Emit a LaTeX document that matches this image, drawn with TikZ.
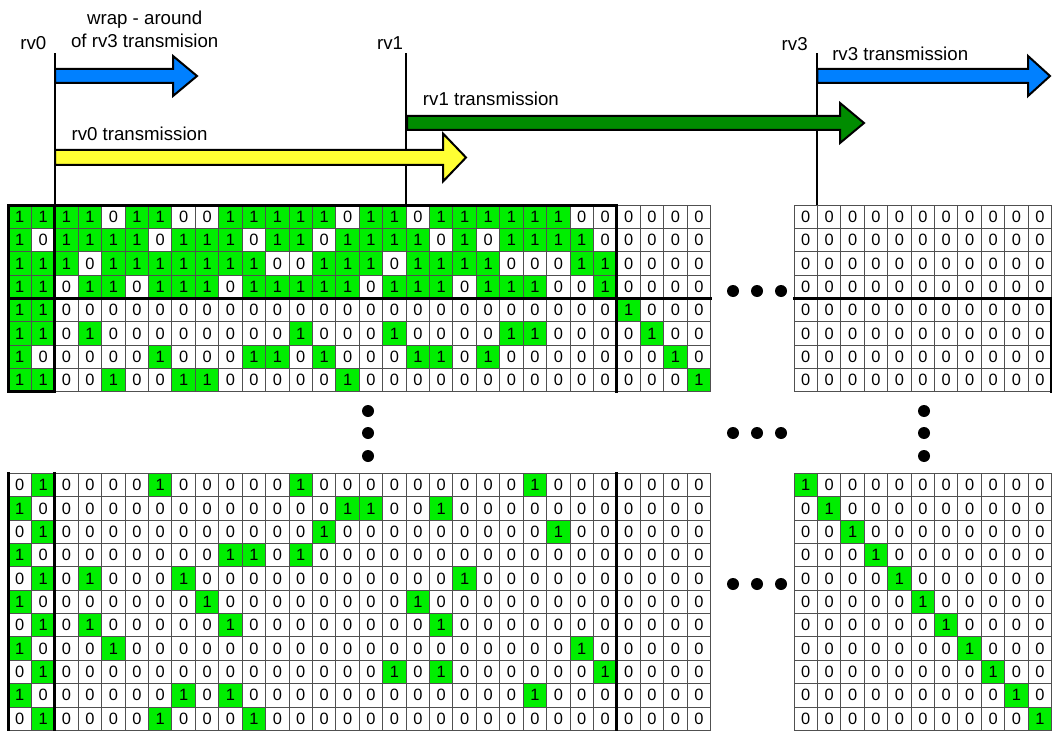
\documentclass[tikz,border=0pt]{standalone}
\usepackage{fontspec}
\setmainfont{Liberation Sans}
\usepackage{tikz}
\definecolor{BitGreen}{HTML}{00EE00}
\definecolor{RvBlue}{HTML}{0080FF}
\definecolor{RvYellow}{HTML}{FFFF33}
\definecolor{RvGreen}{HTML}{008C00}
\definecolor{GridLine}{HTML}{505050}
\newcommand{\cellw}{23.42}
\newcommand{\cellh}{23.35}
\tikzset{
  bitcell/.style={draw=GridLine,line width=0.75pt,minimum width=17.565pt,minimum height=17.51pt,inner sep=0pt,outer sep=0pt,font=\fontsize{12.3}{13}\selectfont},
  thickrule/.style={line width=2.25pt,draw=black,line cap=rect},
  rvline/.style={line width=1.5pt,draw=black},
  arrowedge/.style={line width=1.5pt,draw=black,line join=miter},
  lbl/.style={font=\fontsize{14}{16}\selectfont,inner sep=0pt}
}
% one block of bits: name, left x, top y, rows of 0/1
\newcommand{\bitgrid}[4]{%
  \foreach \rowbits [count=\ri from 0] in {#4} {%
    \foreach \bitval [count=\ci from 0] in \rowbits {%
      \ifnum\bitval=1 \def\cellfill{BitGreen}\else\def\cellfill{white}\fi
      \node[bitcell,fill=\cellfill] (#1-\ri-\ci) at ({#2+(\ci+0.5)*\cellw},{#3+(\ri+0.5)*\cellh}) {\bitval};
    }%
  }%
}
% fat arrow: fill, x start, y centre, x head base, x tip, shaft half, head half
\newcommand{\bigarrow}[7]{%
  \draw[arrowedge,fill=#1] (#2,#3-#6) -- (#4,#3-#6) -- (#4,#3-#7) -- (#5,#3)
    -- (#4,#3+#7) -- (#4,#3+#6) -- (#2,#3+#6) -- cycle;
}

\begin{document}
\begin{tikzpicture}[x=0.75pt,y=-0.75pt]
\useasboundingbox (0,0) rectangle (1052,731);

% systematic + parity rows of the base graph
\bitgrid{tl}{8}{205}{%
{1,1,1,1,0,1,1,0,0,1,1,1,1,1,0,1,1,0,1,1,1,1,1,1,0,0,0,0,0,0},%
{1,0,1,1,1,1,0,1,1,1,0,1,1,0,1,1,1,1,0,1,0,1,1,1,1,0,0,0,0,0},%
{1,1,1,0,1,1,1,1,1,1,1,0,0,1,1,1,0,1,1,1,1,0,0,0,1,1,0,0,0,0},%
{1,1,0,1,1,0,1,1,1,0,1,1,1,1,1,0,1,1,1,0,1,1,1,0,0,1,0,0,0,0},%
{1,1,0,0,0,0,0,0,0,0,0,0,0,0,0,0,0,0,0,0,0,0,0,0,0,0,1,0,0,0},%
{1,1,0,1,0,0,0,0,0,0,0,0,1,0,0,0,1,0,0,0,0,1,1,0,0,0,0,1,0,0},%
{1,0,0,0,0,0,1,0,0,0,1,1,0,1,0,0,0,1,1,0,1,0,0,0,0,0,0,0,1,0},%
{1,1,0,0,1,0,0,1,1,0,0,0,0,0,1,0,0,0,0,0,0,0,0,0,0,0,0,0,0,1}}
\bitgrid{bl}{8}{473.5}{%
{0,1,0,0,0,0,1,0,0,0,0,0,1,0,0,0,0,0,0,0,0,0,1,0,0,0,0,0,0,0},%
{1,0,0,0,0,0,0,0,0,0,0,0,0,0,1,1,0,0,1,0,0,0,0,0,0,0,0,0,0,0},%
{0,1,0,0,0,0,0,0,0,0,0,0,0,1,0,0,0,0,0,0,0,0,0,1,0,0,0,0,0,0},%
{1,0,0,0,0,0,0,0,0,1,1,0,1,0,0,0,0,0,0,0,0,0,0,0,0,0,0,0,0,0},%
{0,1,0,1,0,0,0,1,0,0,0,0,0,0,0,0,0,0,0,1,0,0,0,0,0,0,0,0,0,0},%
{1,0,0,0,0,0,0,0,1,0,0,0,0,0,0,0,0,1,0,0,0,0,0,0,0,0,0,0,0,0},%
{0,1,0,1,0,0,0,0,0,1,0,0,0,0,0,0,0,0,1,0,0,0,0,0,0,0,0,0,0,0},%
{1,0,0,0,1,0,0,0,0,0,0,0,0,0,0,0,0,0,0,0,0,0,0,0,1,0,0,0,0,0},%
{0,1,0,0,0,0,0,0,0,0,0,0,0,0,0,0,1,0,1,0,0,0,0,0,0,1,0,0,0,0},%
{1,0,0,0,0,0,0,1,0,1,0,0,0,0,0,0,0,0,0,0,0,0,1,0,0,0,0,0,0,0},%
{0,1,0,0,0,0,1,0,0,0,1,0,0,0,0,0,0,0,0,0,0,0,0,0,0,0,0,0,0,0}}
\bitgrid{tr}{794}{205}{%
{0,0,0,0,0,0,0,0,0,0,0},{0,0,0,0,0,0,0,0,0,0,0},%
{0,0,0,0,0,0,0,0,0,0,0},{0,0,0,0,0,0,0,0,0,0,0},%
{0,0,0,0,0,0,0,0,0,0,0},{0,0,0,0,0,0,0,0,0,0,0},%
{0,0,0,0,0,0,0,0,0,0,0},{0,0,0,0,0,0,0,0,0,0,0}}
\bitgrid{br}{794}{473.5}{%
{1,0,0,0,0,0,0,0,0,0,0},{0,1,0,0,0,0,0,0,0,0,0},%
{0,0,1,0,0,0,0,0,0,0,0},{0,0,0,1,0,0,0,0,0,0,0},%
{0,0,0,0,1,0,0,0,0,0,0},{0,0,0,0,0,1,0,0,0,0,0},%
{0,0,0,0,0,0,1,0,0,0,0},{0,0,0,0,0,0,0,1,0,0,0},%
{0,0,0,0,0,0,0,0,1,0,0},{0,0,0,0,0,0,0,0,0,1,0},%
{0,0,0,0,0,0,0,0,0,0,1}}

% heavy block borders
\draw[thickrule] (tl-0-0.north west) -- (tl-0-25.north east);
\draw[thickrule] (tl-0-0.north west) -- (tl-7-0.south west) -- (tl-7-1.south east);
\draw[thickrule] (tl-0-2.north west) -- (tl-7-2.south west);
\draw[thickrule] (tl-0-26.north west) -- (tl-7-26.south west);
\draw[thickrule] (tl-4-0.north west) -- (tl-4-29.north east);
\draw[thickrule] (tr-4-0.north west) -- (tr-4-10.north east) -- (tr-7-10.south east);
\draw[thickrule] (bl-0-0.north west) -- (bl-10-0.south west);
\draw[thickrule] (bl-0-2.north west) -- (bl-10-2.south west);
\draw[thickrule] (bl-0-26.north west) -- (bl-10-26.south west);

% redundancy version start points
\coordinate (linetop) at (0,53);
\coordinate (rv0) at (tl-0-2.north west);
\coordinate (rv1) at (tl-0-17.north west);
\coordinate (rv3) at (tr-0-1.north west);
\draw[rvline] (rv0) -- (rv0 |- linetop);
\draw[rvline] (rv1) -- (rv1 |- linetop);
\draw[rvline] (rv3) -- (rv3 |- linetop);

\bigarrow{RvBlue}{55}{76}{173}{197}{7}{20}
\bigarrow{RvYellow}{55}{157.5}{443}{466}{7.5}{24}
\bigarrow{RvGreen}{407}{123}{840}{864}{7}{20}
\bigarrow{RvBlue}{817.4}{76}{1028}{1050}{7}{20}

\node[lbl,anchor=base] (rv0lbl) at (33.3,49.3) {rv0};
\node[lbl,anchor=base] (rv1lbl) at (390,49.3) {rv1};
\node[lbl,anchor=base] (rv3lbl) at (794.7,50.2) {rv3};
\node[lbl,anchor=base] (wraplbl) at (144.7,25) {wrap - around};
\node[lbl,anchor=base] (wraplbl2) at (144.7,47.3) {of rv3 transmision};
\node[lbl,anchor=base west] (rv0tx) at (71.3,140.7) {rv0 transmission};
\node[lbl,anchor=base west] (rv1tx) at (422.7,106) {rv1 transmission};
\node[lbl,anchor=base west] (rv3tx) at (832,60.4) {rv3 transmission};

% ellipses
\foreach \x in {733,757,781} {
  \fill (\x,291) circle[radius=6];
  \fill (\x,433) circle[radius=6];
  \fill (\x,584) circle[radius=6];
}
\foreach \y in {411,433,456} {
  \fill (368,\y) circle[radius=6];
  \fill (924,\y) circle[radius=6];
}
\end{tikzpicture}
\end{document}
